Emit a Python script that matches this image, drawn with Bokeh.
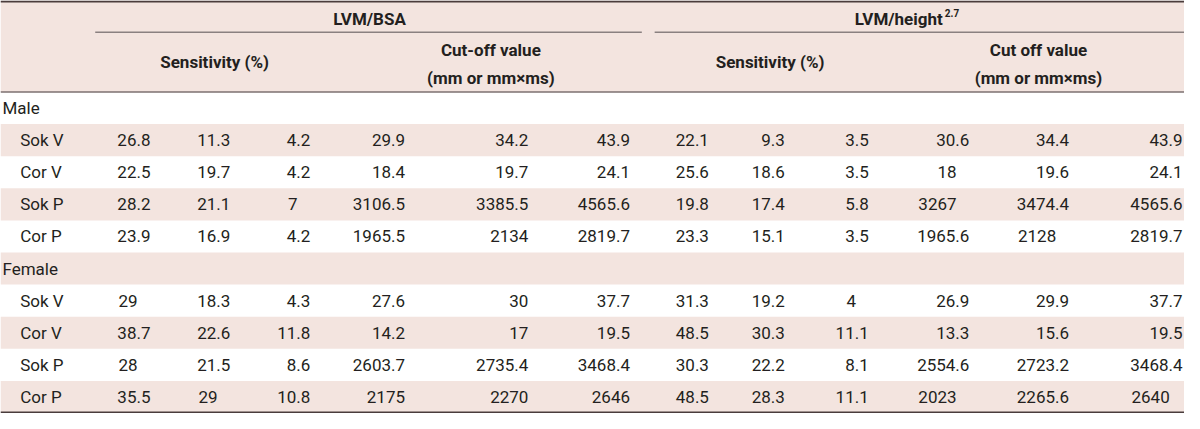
from bokeh.plotting import figure
from bokeh.models import Range1d, ColumnDataSource
from bokeh.core.properties import value
from bokeh.embed import file_html
from bokeh.resources import INLINE

# ---------------- data ----------------
groups = ["Male", "Female"]
methods = ["Sok V", "Cor V", "Sok P", "Cor P"]

group_headers = ["LVM/BSA", "LVM/height"]
group_sup = ["", "2.7"]
sub_headers_1 = ["Sensitivity (%)", "Cut-off value", "Sensitivity (%)", "Cut off value"]
sub_headers_2 = ["", "(mm or mm\u00d7ms)", "", "(mm or mm\u00d7ms)"]

# each list: Male (Sok V, Cor V, Sok P, Cor P), Female (Sok V, Cor V, Sok P, Cor P)
bsa_sens_a = [26.8, 22.5, 28.2, 23.9, 29, 38.7, 28, 35.5]
bsa_sens_b = [11.3, 19.7, 21.1, 16.9, 18.3, 22.6, 21.5, 29]
bsa_sens_c = [4.2, 4.2, 7, 4.2, 4.3, 11.8, 8.6, 10.8]
bsa_cut_a = [29.9, 18.4, 3106.5, 1965.5, 27.6, 14.2, 2603.7, 2175]
bsa_cut_b = [34.2, 19.7, 3385.5, 2134, 30, 17, 2735.4, 2270]
bsa_cut_c = [43.9, 24.1, 4565.6, 2819.7, 37.7, 19.5, 3468.4, 2646]
ht_sens_a = [22.1, 25.6, 19.8, 23.3, 31.3, 48.5, 30.3, 48.5]
ht_sens_b = [9.3, 18.6, 17.4, 15.1, 19.2, 30.3, 22.2, 28.3]
ht_sens_c = [3.5, 3.5, 5.8, 3.5, 4, 11.1, 8.1, 11.1]
ht_cut_a = [30.6, 18, 3267, 1965.6, 26.9, 13.3, 2554.6, 2023]
ht_cut_b = [34.4, 19.6, 3474.4, 2128, 29.9, 15.6, 2723.2, 2265.6]
ht_cut_c = [43.9, 24.1, 4565.6, 2819.7, 37.7, 19.5, 3468.4, 2640]

columns = [bsa_sens_a, bsa_sens_b, bsa_sens_c, bsa_cut_a, bsa_cut_b, bsa_cut_c,
           ht_sens_a, ht_sens_b, ht_sens_c, ht_cut_a, ht_cut_b, ht_cut_c]

# ---------------- layout (reference pixel space 1200 x 429) ----------------
W, H = 1200, 429
PINK = "#f3e4df"
TEXT = "#231f20"
FONT = "Roboto"
FS = "17px"
HFS = "17px"

col_right = [152, 233, 314, 410, 535, 638, 718, 795, 880, 982, 1083, 1198]
col_decimal = [True, True, True, False, False, False, True, True, True, True, True, True]
DEC_OFF = 13

header_bottom = 95.0
row_top = header_bottom
row_h = (428.5 - header_bottom) / 10.0

p = figure(width=1184, height=413, x_range=Range1d(0, W), y_range=Range1d(H, 0),
           output_backend="svg", toolbar_location=None, min_border=0,
           outline_line_color=None, background_fill_color="white")
p.axis.visible = False
p.grid.visible = False

# header background
p.quad(left=[0], right=[W], top=[0], bottom=[header_bottom], fill_color=PINK, line_color=None)

# row list (group label rows + method rows)
row_labels = []
row_is_group = []
row_data_idx = []
for gi, g in enumerate(groups):
    row_labels.append(g); row_is_group.append(True); row_data_idx.append(None)
    for mi, m in enumerate(methods):
        row_labels.append(m); row_is_group.append(False); row_data_idx.append(gi * len(methods) + mi)

# row backgrounds (alternating)
lefts, rights, tops, bottoms = [], [], [], []
for ri in range(len(row_labels)):
    if ri % 2 == 1:
        lefts.append(0); rights.append(W)
        tops.append(row_top + ri * row_h); bottoms.append(row_top + (ri + 1) * row_h)
p.quad(left=lefts, right=rights, top=tops, bottom=bottoms, fill_color=PINK, line_color=None)

# lines
p.segment(x0=[0], y0=[1], x1=[W], y1=[1], line_color="#4a3c3c", line_width=2)
p.segment(x0=[96, 663], y0=[33, 33], x1=[650, W], y1=[33, 33], line_color="#8a8080", line_width=1.3)
p.segment(x0=[0], y0=[header_bottom], x1=[W], y1=[header_bottom], line_color="#7d7070", line_width=1.6)
p.segment(x0=[0], y0=[428], x1=[W], y1=[428], line_color="#4a3c3c", line_width=2)

# header texts
p.text(x=[374], y=[19], text=[group_headers[0]], text_align="center", text_baseline="middle",
       text_font=value(FONT), text_font_size=HFS, text_font_style="bold", text_color=TEXT)
p.text(x=[955], y=[19], text=[group_headers[1]], text_align="right", text_baseline="middle",
       text_font=value(FONT), text_font_size=HFS, text_font_style="bold", text_color=TEXT)
p.text(x=[957], y=[13], text=[group_sup[1]], text_align="left", text_baseline="middle",
       text_font=value(FONT), text_font_size="10px", text_font_style="bold", text_color=TEXT)

sub_x = [217, 497, 780, 1052]
for i in range(4):
    if sub_headers_2[i]:
        p.text(x=[sub_x[i]], y=[51], text=[sub_headers_1[i]], text_align="center", text_baseline="middle",
               text_font=value(FONT), text_font_size=HFS, text_font_style="bold", text_color=TEXT)
        p.text(x=[sub_x[i]], y=[80], text=[sub_headers_2[i]], text_align="center", text_baseline="middle",
               text_font=value(FONT), text_font_size=HFS, text_font_style="bold", text_color=TEXT)
    else:
        p.text(x=[sub_x[i]], y=[64], text=[sub_headers_1[i]], text_align="center", text_baseline="middle",
               text_font=value(FONT), text_font_size=HFS, text_font_style="bold", text_color=TEXT)

# row labels
lab_x = [2 if g else 20 for g in row_is_group]
lab_y = [row_top + (ri + 0.5) * row_h for ri in range(len(row_labels))]
p.text(x=lab_x, y=lab_y, text=row_labels, text_align="left", text_baseline="middle",
       text_font=value(FONT), text_font_size=FS, text_color=TEXT)

# cell values
xs, ys, ts = [], [], []
for ci, col in enumerate(columns):
    for ri in range(len(row_labels)):
        di = row_data_idx[ri]
        if di is None:
            continue
        v = col[di]
        s = f"{v:g}"
        x = col_right[ci]
        if col_decimal[ci] and "." not in s:
            x -= DEC_OFF
        xs.append(x); ys.append(lab_y[ri]); ts.append(s)
src = ColumnDataSource(dict(x=xs, y=ys, text=ts))
p.text(x="x", y="y", text="text", source=src, text_align="right", text_baseline="middle",
       text_font=value(FONT), text_font_size=FS, text_color=TEXT)

open("out.html", "w").write(file_html(p, INLINE))
